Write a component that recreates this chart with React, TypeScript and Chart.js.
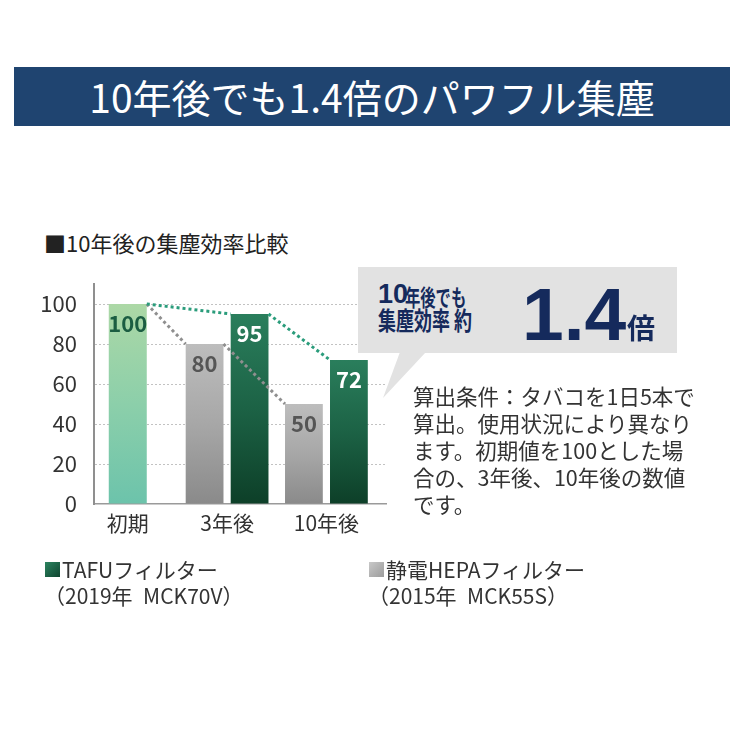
import React, { useEffect, useRef } from 'react';
import { Chart, registerables } from 'chart.js';

Chart.register(...registerables);

// ---- data ----
const CATEGORIES = ['初期', '3年後', '10年後'];
const CATEGORY_INDEX = [0, 1, 2];
const TAFU_VALUES: (number | null)[] = [100, 95, 72];
const HEPA_VALUES: (number | null)[] = [null, 80, 50];
const Y_TICKS = [0, 20, 40, 60, 80, 100];
const SERIES_NAMES = ['TAFUフィルター', '静電HEPAフィルター'];
const SERIES_MODELS = ['（2019年\u2002MCK70V）', '（2015年\u2002MCK55S）'];
const TITLE = '10年後でも1.4倍のパワフル集塵';
const SUBTITLE = '■10年後の集塵効率比較';
const CALLOUT_LINE1 = ['10', '年後でも'];
const CALLOUT_LINE2 = '集塵効率 約';
const CALLOUT_RATIO = '1.4';
const CALLOUT_UNIT = '倍';
const NOTE_LINES = [
  '算出条件：タバコを1日5本で',
  '算出。使用状況により異なり',
  'ます。初期値を100とした場',
  '合の、3年後、10年後の数値',
  'です。',
];

const JP = '"Noto Sans CJK JP", "Noto Sans", sans-serif';

type Palette = [string, string, string];
const PAL_INITIAL: Palette = ['#acd8a6', '#8ccfaa', '#6cc3ab'];
const PAL_TAFU: Palette = ['#2a7e5c', '#1c6245', '#0d3f28'];
const PAL_HEPA: Palette = ['#bdbdbd', '#a7a7a7', '#8a8a8a'];

function gradientFor(pal: Palette, pick?: (i: number) => Palette) {
  return (c: any) => {
    const chart = c.chart;
    const y = chart.scales && chart.scales.y;
    const p = pick && typeof c.dataIndex === 'number' ? pick(c.dataIndex) : pal;
    if (!y || !c.raw || c.raw.y == null) return p[1];
    const top = y.getPixelForValue(c.raw.y);
    const bot = y.getPixelForValue(0);
    if (!isFinite(top) || !isFinite(bot) || bot - top < 1) return p[1];
    const g = chart.ctx.createLinearGradient(0, top, 0, bot);
    g.addColorStop(0, p[0]);
    g.addColorStop(0.5, p[1]);
    g.addColorStop(1, p[2]);
    return g;
  };
}

const LINE_COLORS = ['#8f8f8f', '#2a9c7b'];
const LABEL_COLORS = (dsIndex: number, i: number) =>
  dsIndex === 0 ? '#555555' : i === 0 ? '#1b5d42' : '#ffffff';

const overlayPlugin = {
  id: 'overlay',
  afterDatasetsDraw(chart: any) {
    const ctx = chart.ctx as CanvasRenderingContext2D;
    const metas = chart.getSortedVisibleDatasetMetas();
    const values = metas.map((m: any) => (chart.data.datasets[m.index].data as any[]).map((d) => d.y));
    const barAt = (i: number) => {
      for (let k = metas.length - 1; k >= 0; k--) {
        if (values[k][i] != null) return metas[k].data[i];
      }
      return null;
    };
    // dotted connectors
    metas.forEach((meta: any, k: number) => {
      const pts: any[] = [];
      CATEGORY_INDEX.forEach((_, i) => {
        const el = values[k][i] != null ? meta.data[i] : barAt(i);
        if (el) pts.push(el.getProps(['x', 'y', 'width'], true));
      });
      ctx.save();
      ctx.strokeStyle = LINE_COLORS[meta.index];
      ctx.lineWidth = 3;
      ctx.setLineDash([3, 3]);
      for (let j = 0; j < pts.length - 1; j++) {
        const a = pts[j];
        const b = pts[j + 1];
        ctx.beginPath();
        ctx.moveTo(a.x + a.width / 2, a.y);
        ctx.lineTo(b.x - b.width / 2, b.y);
        ctx.stroke();
      }
      ctx.restore();
    });
    // value labels
    metas.forEach((meta: any, k: number) => {
      meta.data.forEach((el: any, i: number) => {
        const v = values[k][i];
        if (v == null) return;
        const p = el.getProps(['x', 'y'], true);
        ctx.save();
        ctx.font = `bold 22px ${JP}`;
        ctx.fillStyle = LABEL_COLORS(meta.index, i);
        ctx.textAlign = 'center';
        ctx.textBaseline = 'middle';
        ctx.fillText(String(v), p.x, p.y + 20);
        ctx.restore();
      });
    });
  },
};

export default function App() {
  const canvasRef = useRef<HTMLCanvasElement>(null);

  useEffect(() => {
    document.body.style.margin = '0';
    const canvas = canvasRef.current;
    if (!canvas) return;
    const chart = new Chart(canvas, {
      type: 'bar',
      data: {
        datasets: [
          {
            label: SERIES_NAMES[1],
            data: CATEGORY_INDEX.map((x, i) => ({ x, y: HEPA_VALUES[i] })) as any,
            backgroundColor: gradientFor(PAL_HEPA) as any,
            borderWidth: 0,
          },
          {
            label: SERIES_NAMES[0],
            data: CATEGORY_INDEX.map((x, i) => ({ x, y: TAFU_VALUES[i] })) as any,
            backgroundColor: gradientFor(PAL_TAFU, (i) => (i === 0 ? PAL_INITIAL : PAL_TAFU)) as any,
            borderWidth: 0,
          },
        ],
      },
      options: {
        responsive: false,
        animation: false,
        events: [],
        datasets: {
          bar: {
            categoryPercentage: 0.906,
            barPercentage: 0.84,
            maxBarThickness: 38,
            skipNull: true,
          } as any,
        },
        layout: { padding: { left: 20, top: 284, right: 364, bottom: 206 } },
        plugins: {
          legend: { display: false },
          tooltip: { enabled: false },
          title: { display: false },
        },
        scales: {
          x: {
            type: 'linear',
            offset: false,
            min: -0.34,
            max: 2.6,
            afterBuildTicks: (axis: any) => {
              axis.ticks = CATEGORY_INDEX.map((v) => ({ value: v }));
            },
            afterFit: (axis: any) => {
              axis.height = 40;
            },
            grid: { display: false, drawTicks: false, offset: false },
            border: { display: true, color: '#9a9a9a', width: 1.5 },
            ticks: {
              autoSkip: false,
              maxRotation: 0,
              padding: 6,
              color: '#333333',
              font: { family: JP, size: 21 },
              callback: (v: any) => CATEGORIES[v] ?? '',
            },
          } as any,
          y: {
            min: 0,
            max: 110,
            afterBuildTicks: (axis: any) => {
              axis.ticks = Y_TICKS.map((v) => ({ value: v }));
            },
            afterFit: (axis: any) => {
              axis.width = 74;
            },
            grid: {
              drawTicks: false,
              lineWidth: 1,
              color: (c: any) => (c.tick && c.tick.value === 0 ? 'rgba(0,0,0,0)' : '#c2c2c2'),
            },
            border: { display: true, color: '#8f8f8f', width: 2, dash: [2, 2] },
            ticks: {
              padding: 17,
              color: '#333333',
              font: { family: JP, size: 22 },
            },
          } as any,
        },
      },
      plugins: [overlayPlugin],
    });
    return () => chart.destroy();
  }, []);

  const abs = (s: React.CSSProperties): React.CSSProperties => ({ position: 'absolute', whiteSpace: 'nowrap', lineHeight: 1, ...s });
  const navy = '#152a5c';

  return (
    <div style={{ position: 'relative', width: 750, height: 750, background: '#ffffff', fontFamily: JP, overflow: 'hidden' }}>
      <div
        style={{
          position: 'absolute', left: 14, top: 67, width: 716, height: 59, background: '#1f4470',
          color: '#ffffff', fontSize: 39, display: 'flex', alignItems: 'center', justifyContent: 'center', lineHeight: 1,
        }}
      >
        {TITLE}
      </div>
      <div style={abs({ left: 44, top: 231, fontSize: 22, color: '#222' })}>{SUBTITLE}</div>

      <canvas ref={canvasRef} width={750} height={750} style={{ position: 'absolute', left: 0, top: 0, width: 750, height: 750 }} />

      <svg width={750} height={750} style={{ position: 'absolute', left: 0, top: 0, pointerEvents: 'none' }}>
        <rect x={358} y={267} width={319} height={86} fill="#e2e2e2" />
        <polygon points="400,352 426,352 383,398" fill="#e2e2e2" />
      </svg>

      <div style={abs({ left: 378, top: 281, fontSize: 27, fontWeight: 700, color: navy, fontFamily: '"Liberation Sans", Arial, sans-serif' })}>
        {CALLOUT_LINE1[0]}
      </div>
      <div style={abs({ left: 405, top: 285, fontSize: 22.5, fontWeight: 700, color: navy, transform: 'scaleX(0.68)', transformOrigin: 'left top' })}>
        {CALLOUT_LINE1[1]}
      </div>
      <div style={abs({ left: 378, top: 307, fontSize: 25, fontWeight: 700, color: navy, transform: 'scaleX(0.72)', transformOrigin: 'left top' })}>
        {CALLOUT_LINE2}
      </div>
      <div style={abs({ left: 522, top: 277, fontSize: 75, fontWeight: 700, color: navy, fontFamily: '"Liberation Sans", Arial, sans-serif' })}>
        {CALLOUT_RATIO}
      </div>
      <div style={abs({ left: 627, top: 313, fontSize: 28, fontWeight: 700, color: navy })}>{CALLOUT_UNIT}</div>

      <div style={{ position: 'absolute', left: 413, top: 382, fontSize: 21.5, lineHeight: '27px', color: '#333', whiteSpace: 'nowrap' }}>
        {NOTE_LINES.map((l, i) => (
          <div key={i}>{l}</div>
        ))}
      </div>

      <div style={abs({ left: 45, top: 562, width: 15, height: 15, background: 'linear-gradient(135deg, #2c8460, #0f4530)' })} />
      <div style={abs({ left: 62, top: 559, fontSize: 21, color: '#333' })}>{SERIES_NAMES[0]}</div>
      <div style={abs({ left: 44, top: 585, fontSize: 21, color: '#333' })}>{SERIES_MODELS[0]}</div>

      <div style={abs({ left: 369, top: 562, width: 15, height: 15, background: 'linear-gradient(135deg, #c8c8c8, #9c9c9c)' })} />
      <div style={abs({ left: 386, top: 559, fontSize: 21, color: '#333' })}>{SERIES_NAMES[1]}</div>
      <div style={abs({ left: 368, top: 585, fontSize: 21, color: '#333' })}>{SERIES_MODELS[1]}</div>
    </div>
  );
}
